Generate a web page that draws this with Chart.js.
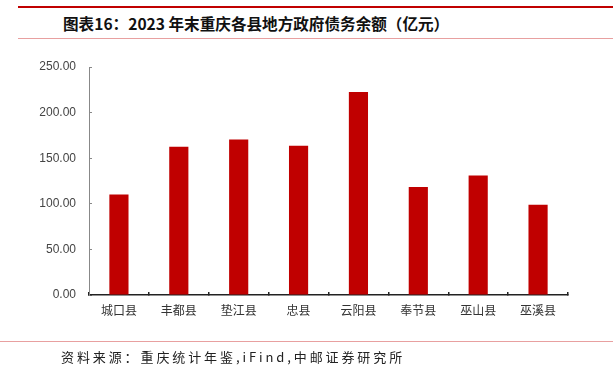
<!DOCTYPE html>
<html>
<head>
<meta charset="utf-8">
<script src="https://cdn.jsdelivr.net/npm/chart.js@4"></script>
<style>
  body { margin: 0; background: #fff; }
  #wrap { position: relative; width: 613px; height: 377px; overflow: hidden; }
  #chart { position: absolute; left: 0; top: 0; }
  .line { position: absolute; left: 18px; right: 0; }
  #topLine { top: 6px; height: 2px; background: #c00000; }
  #titleLine { top: 38px; height: 1px; background: #e8a0a0; }
  #bottomLine { top: 341px; height: 1px; left: 0; background: #e8a0a0; }
  #title { position: absolute; left: 63px; top: 12px; font: bold 15.6px "Noto Sans CJK SC"; color: #111; }
  #source { position: absolute; left: 61px; top: 347px; font: 13px "Noto Sans CJK SC"; color: #222; letter-spacing: 2.9px; }
</style>
</head>
<body>
<div id="wrap">
  <div class="line" id="topLine"></div>
  <div id="title">图表16：2023 年末重庆各县地方政府债务余额（亿元）</div>
  <div class="line" id="titleLine"></div>
  <canvas id="chart" width="613" height="377"></canvas>
  <div class="line" id="bottomLine"></div>
  <div id="source">资料来源：重庆统计年鉴,iFind,中邮证券研究所</div>
</div>
<script>
const counties = ['城口县', '丰都县', '垫江县', '忠县', '云阳县', '奉节县', '巫山县', '巫溪县'];
const debt = [110.2, 162.6, 170.5, 163.7, 222.7, 118.3, 131.0, 99.0];
const yTicks = [0, 50, 100, 150, 200, 250];

const ctx = document.getElementById('chart').getContext('2d');
new Chart(ctx, {
    type: 'bar',
    data: {
        labels: counties,
        datasets: [{
            data: debt,
            backgroundColor: '#c00000',
            barPercentage: 0.32,
            categoryPercentage: 1.0
        }]
    },
    options: {
        responsive: false,
        animation: false,
        layout: { padding: { top: 67, right: 45, left: 0, bottom: 0 } },
        plugins: { legend: { display: false }, tooltip: { enabled: false } },
        scales: {
            x: {
                afterFit: s => { s.height = 82; },
                // ticks point inward, like the original
                grid: { display: true, drawOnChartArea: false, offset: true, tickLength: -3, color: '#222', lineWidth: 1.5 },
                border: { color: '#222', width: 1.5 },
                ticks: { color: '#333', font: { family: 'Noto Sans CJK SC', size: 12 }, padding: 11 }
            },
            y: {
                min: 0,
                max: 250,
                afterFit: s => { s.width = 89; },
                afterBuildTicks: s => { s.ticks = yTicks.map(v => ({ value: v })); },
                grid: { display: true, drawOnChartArea: false, tickLength: -3, color: '#888' },
                border: { color: '#888' },
                ticks: {
                    color: '#444',
                    font: { family: 'Liberation Sans', size: 12 },
                    padding: 16,
                    callback: v => v.toFixed(2)
                }
            }
        }
    }
});
</script>
</body>
</html>
